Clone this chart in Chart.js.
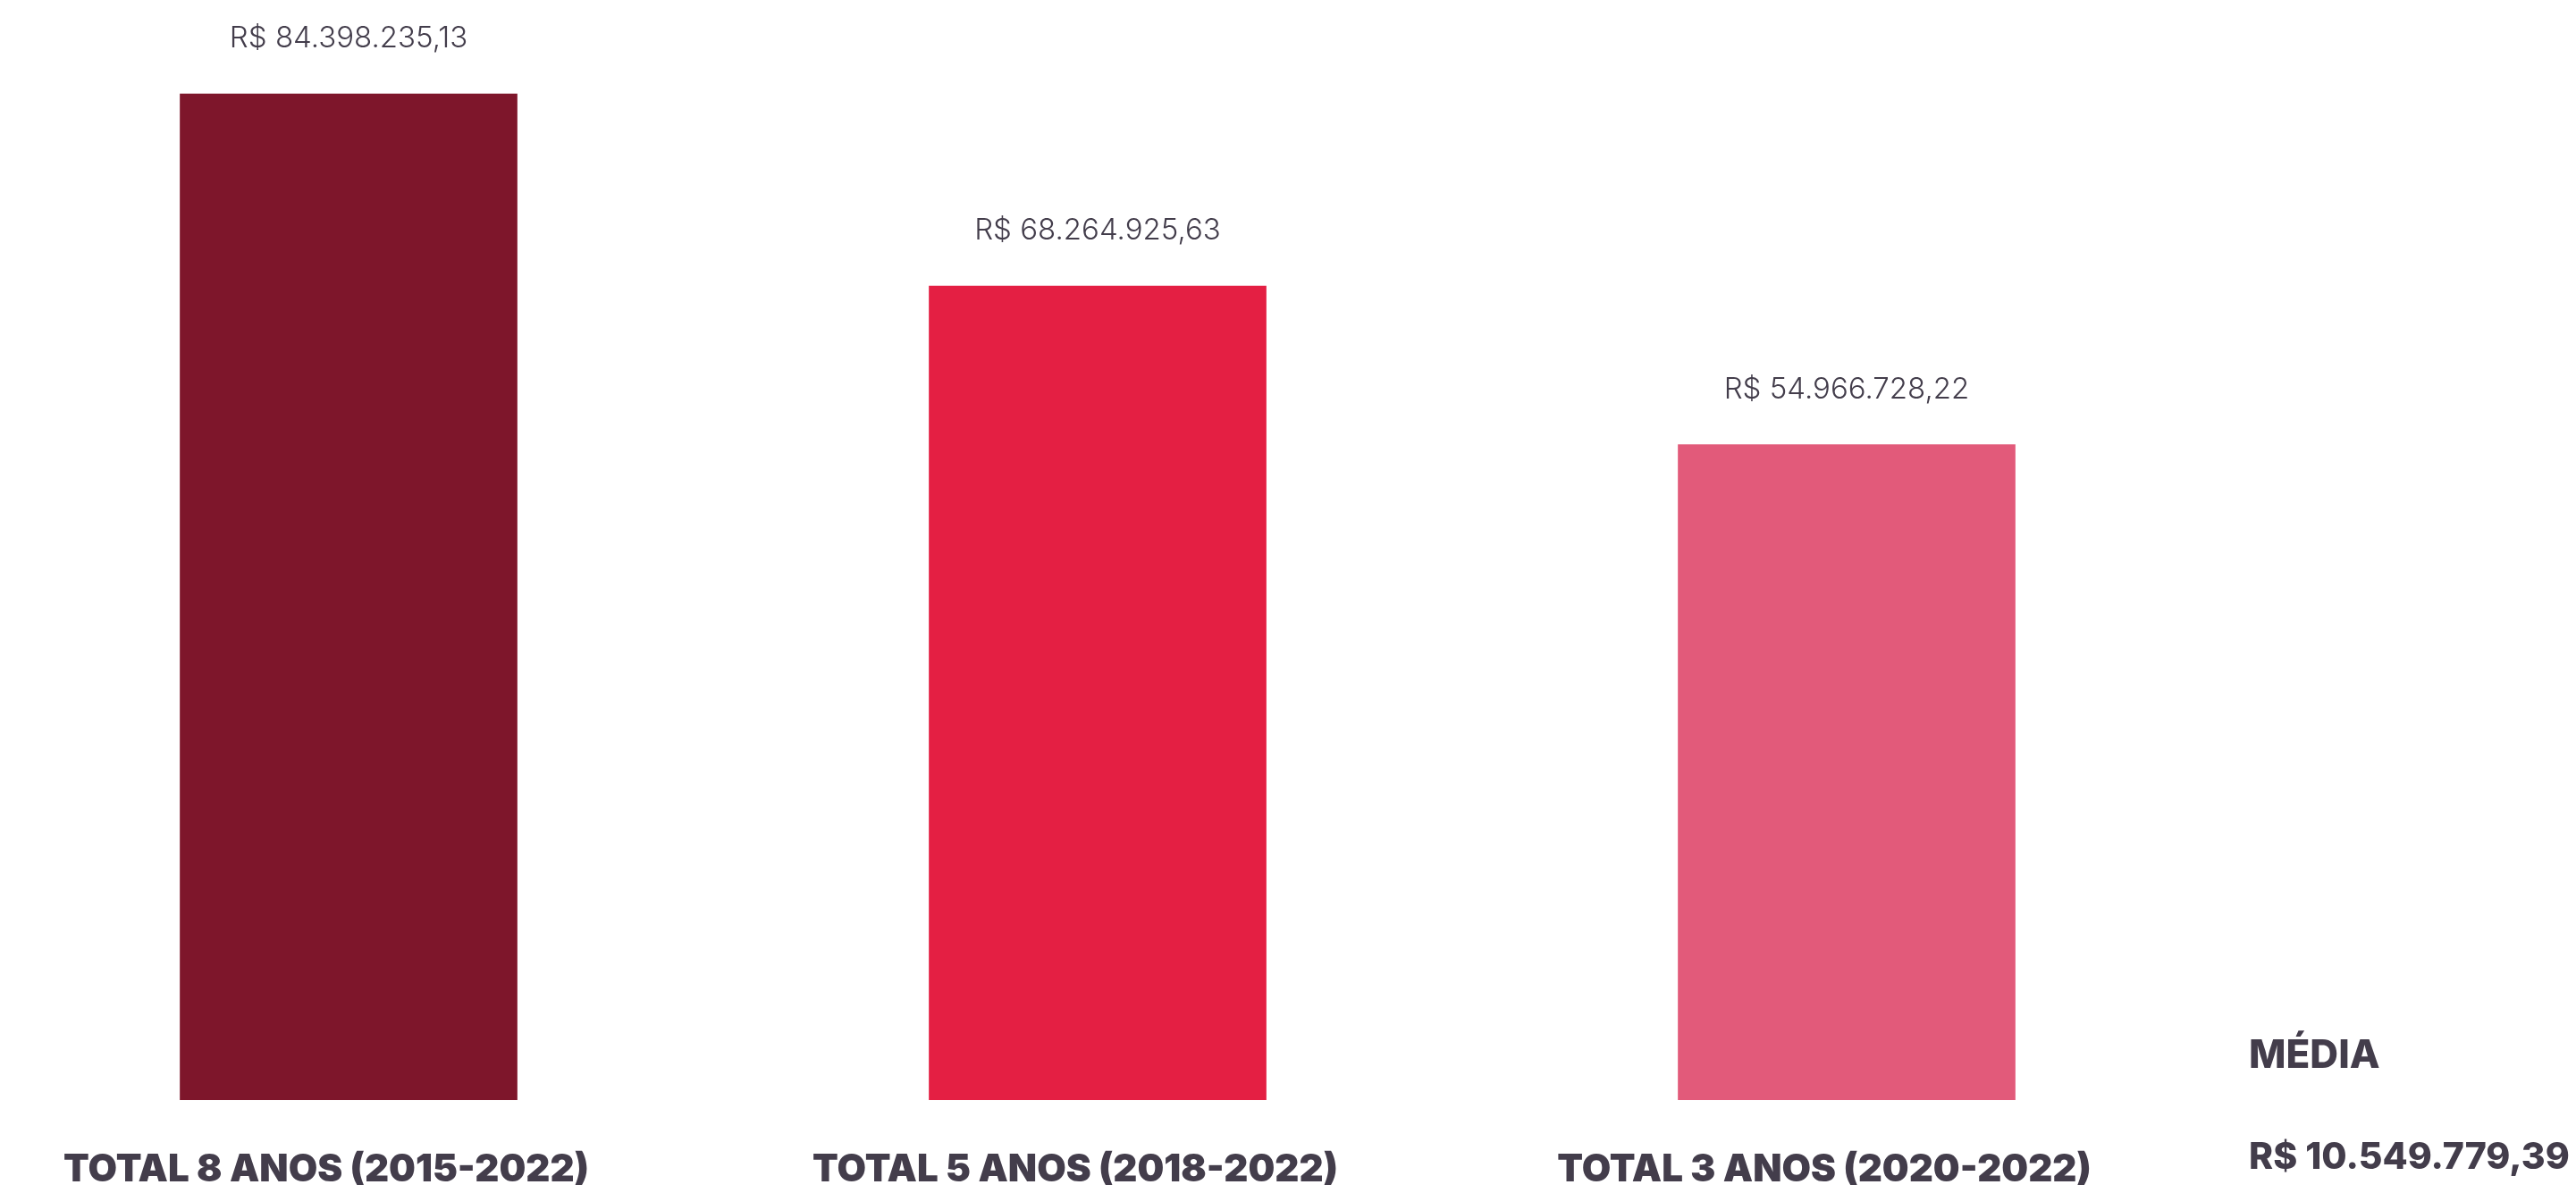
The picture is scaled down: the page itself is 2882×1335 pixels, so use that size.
<!DOCTYPE html>
<html>
<head>
<meta charset="utf-8">
<script src="https://cdn.jsdelivr.net/npm/chart.js@4.4.0/dist/chart.umd.min.js"></script>
<style>
  html, body { margin: 0; padding: 0; background: #fff; overflow: hidden; }
  #wrap { position: relative; width: 2882px; height: 1335px; overflow: hidden; }
</style>
</head>
<body>
<div id="wrap"><canvas id="totalsChart" width="2882" height="1391"></canvas></div>
<script>
// Data
const categories = ['TOTAL 8 ANOS (2015-2022)', 'TOTAL 5 ANOS (2018-2022)', 'TOTAL 3 ANOS (2020-2022)'];
const totals = [84398235.13, 68264925.63, 54966728.22];
const barColors = ['#7E162B', '#E41F43', '#E25A7A'];
const averageLabel = 'MÉDIA';
const averageValue = 10549779.39;
const yMax = 92270000;

const textColor = '#433D4B';

// Brazilian currency format: R$ 84.398.235,13
function brl(v) {
    return 'R$ ' + v.toLocaleString('pt-BR', { minimumFractionDigits: 2, maximumFractionDigits: 2 });
}

// Value labels above each bar + the average block on the right
const labelsPlugin = {
    id: 'labelsPlugin',
    afterDatasetsDraw(chart) {
        const c = chart.ctx;
        const meta = chart.getDatasetMeta(0);
        c.save();
        c.fillStyle = textColor;
        c.font = '300 33px Inter';
        c.textAlign = 'center';
        c.textBaseline = 'alphabetic';
        meta.data.forEach((bar, i) => {
            c.fillText(brl(totals[i]), bar.x, bar.y - 52);
        });

        // average (média) block
        const x = chart.chartArea.right + 450;
        c.textAlign = 'left';
        c.font = '800 44px Inter';
        c.fillText(averageLabel, x, 1195);
        c.font = '800 41px Inter';
        c.fillText(brl(averageValue), x, 1308);
        c.restore();
    }
};

const ctx = document.getElementById('totalsChart').getContext('2d');
new Chart(ctx, {
    type: 'bar',
    data: {
        labels: categories,
        datasets: [{
            data: totals,
            backgroundColor: barColors,
            borderWidth: 0,
            barThickness: 377,
            clip: false
        }]
    },
    options: {
        responsive: false,
        animation: false,
        layout: {
            padding: { left: 390, right: 816, top: 0, bottom: 2 }
        },
        scales: {
            x: {
                offset: false,
                grid: { display: false, drawTicks: false },
                border: { display: false },
                ticks: {
                    color: textColor,
                    font: { family: 'Inter', size: 42, weight: '900' },
                    padding: 54,
                    labelOffset: -25,
                    maxRotation: 0,
                    autoSkip: false
                }
            },
            y: {
                display: false,
                min: 0,
                max: yMax
            }
        },
        plugins: {
            legend: { display: false },
            tooltip: { enabled: false }
        }
    },
    plugins: [labelsPlugin]
});
</script>
</body>
</html>
